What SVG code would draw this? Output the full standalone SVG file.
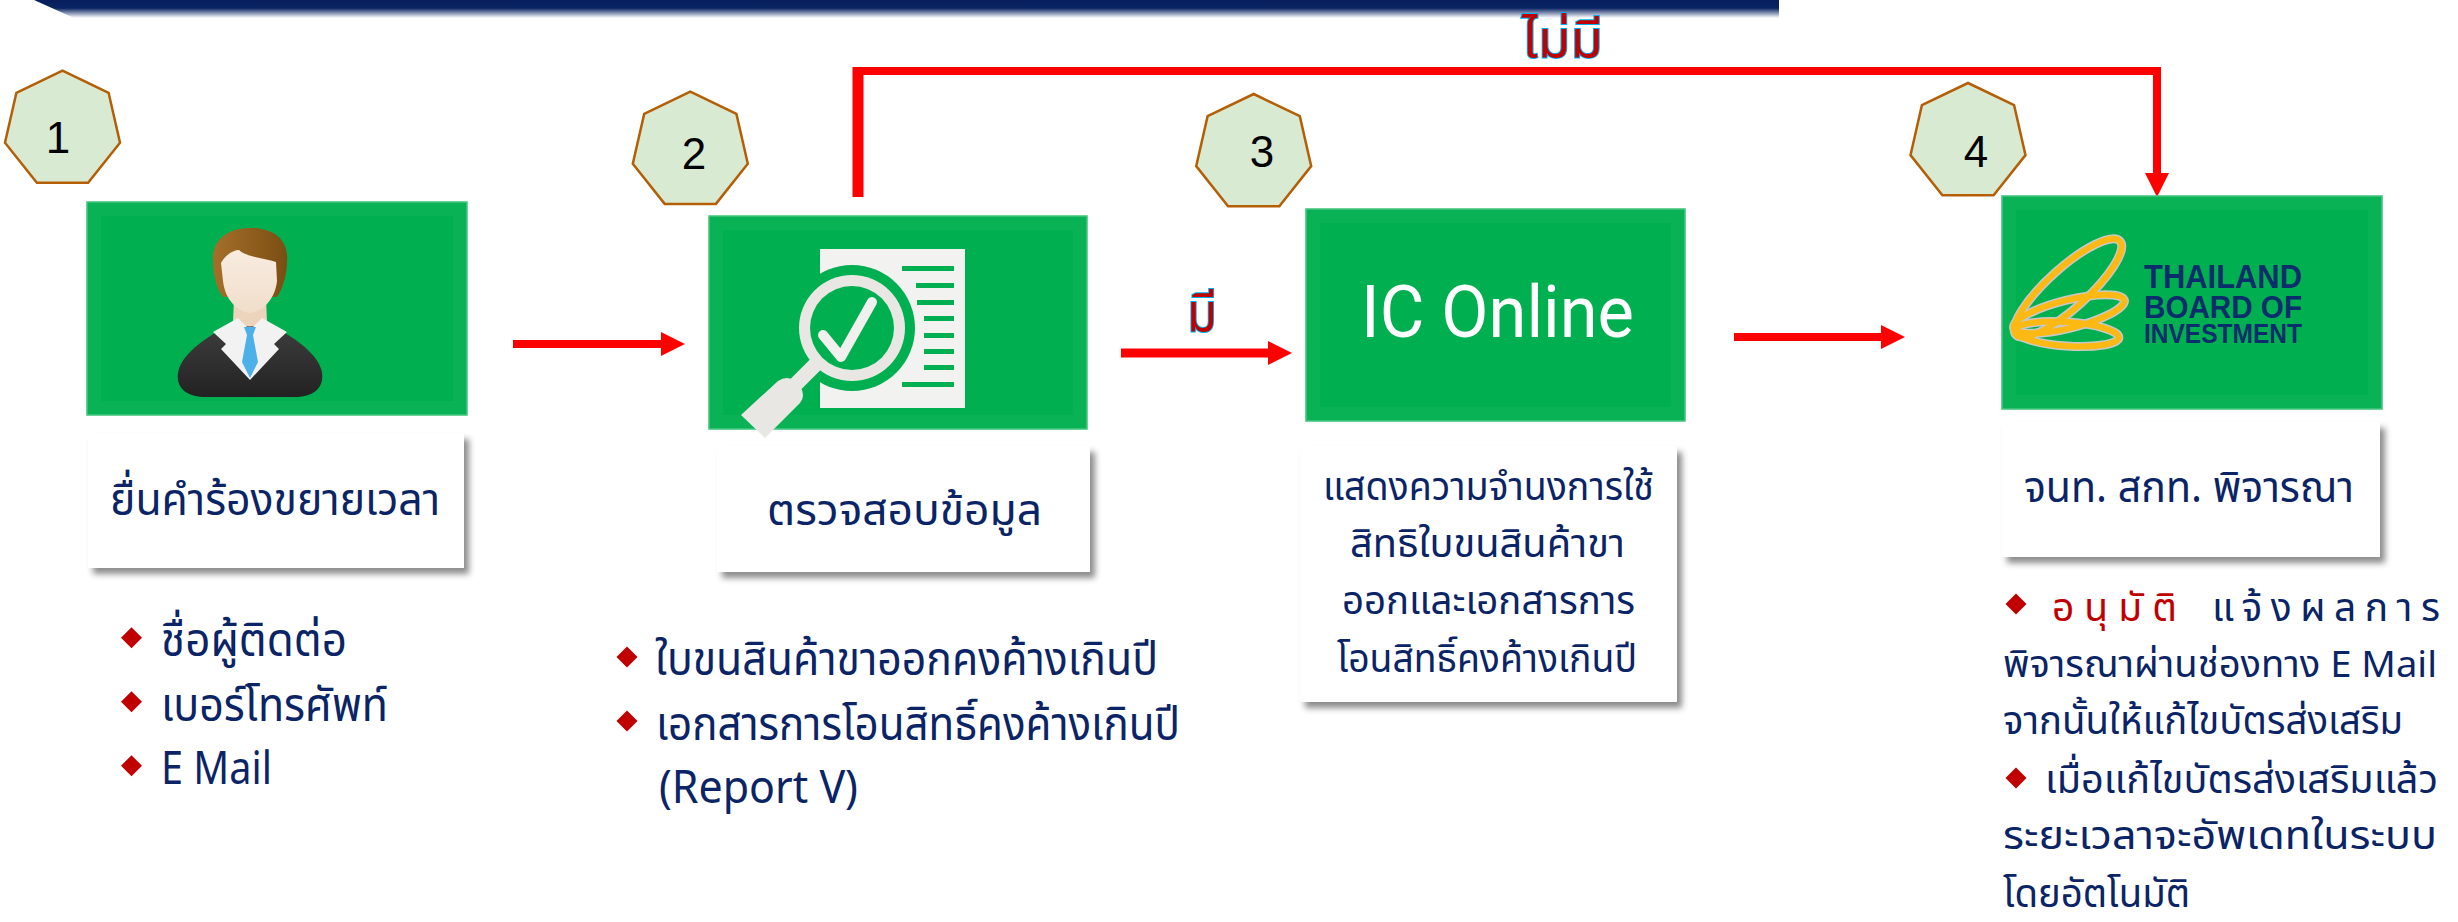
<svg xmlns="http://www.w3.org/2000/svg" width="2458" height="922" viewBox="0 0 2458 922">
  <style>
    .th { font-family: "Noto Sans Thai", "Noto Sans", "DejaVu Sans", sans-serif; fill: #0B2466; }
    .num { font-family: "Liberation Sans", Arial, sans-serif; font-size: 44px; fill: #000; text-anchor: middle; }
    .hept { fill: #D9EAD3; stroke: #B45F06; stroke-width: 2.5; }
    .gbox { fill: #00AF50; stroke: #3DC479; stroke-width: 1.5; }
    .bevel { fill: none; stroke: #FFFFFF; stroke-opacity: 0.04; stroke-width: 14; }
    .tbox { fill: #FFFFFF; filter: url(#shadow); }
    .conn { stroke: #FF0000; fill: none; }
    .flag { font-family: "Noto Sans Thai", "Noto Sans", sans-serif; fill: #C00000; stroke: #00B0F0; stroke-width: 2; paint-order: stroke; }
    .bul { fill: #C00000; }
    .boi { font-family: "Liberation Sans", Arial, sans-serif; font-weight: bold; fill: #0B2D6B; }
  </style>
  <defs>
    <filter id="shadow" x="-10%" y="-10%" width="125%" height="135%">
      <feDropShadow dx="5" dy="6" stdDeviation="3" flood-color="#000" flood-opacity="0.45"/>
    </filter>
    <linearGradient id="band" x1="0" y1="0" x2="0" y2="1">
      <stop offset="0" stop-color="#061E5C"/>
      <stop offset="0.45" stop-color="#0A2463"/>
      <stop offset="1" stop-color="#0A2463" stop-opacity="0"/>
    </linearGradient>
    <linearGradient id="hair" x1="0" y1="0" x2="1" y2="0">
      <stop offset="0" stop-color="#A56F2A"/>
      <stop offset="1" stop-color="#7A4E12"/>
    </linearGradient>
    <linearGradient id="suit" x1="0" y1="0" x2="0" y2="1">
      <stop offset="0" stop-color="#404040"/>
      <stop offset="1" stop-color="#222222"/>
    </linearGradient>
    <linearGradient id="skin" x1="0" y1="0" x2="0" y2="1">
      <stop offset="0" stop-color="#F8ECE0"/>
      <stop offset="1" stop-color="#F1DECB"/>
    </linearGradient>
    <marker id="head" viewBox="0 0 24 24" markerWidth="24" markerHeight="24" refX="0" refY="12" orient="auto" markerUnits="userSpaceOnUse">
      <path d="M0,0 L24,12 L0,24 Z" fill="#FF0000"/>
    </marker>
    <path id="diamond" d="M0,-10.5 L10.5,0 L0,10.5 L-10.5,0 Z"/>
    <polygon id="hepta" points="0,-59 46.1,-36.8 57.5,13.1 25.6,53.2 -25.6,53.2 -57.5,13.1 -46.1,-36.8"/>
  </defs>

  <!-- title band -->
  <path d="M34,0 H1779 V18 H74 Z" fill="url(#band)"/>

  <!-- connectors -->
  <g id="connectors">
    <line class="conn" x1="513" y1="344" x2="661" y2="344" stroke-width="8" marker-end="url(#head)"/>
    <line class="conn" x1="1121" y1="353" x2="1268" y2="353" stroke-width="9" marker-end="url(#head)"/>
    <line class="conn" x1="1734" y1="337" x2="1881" y2="337" stroke-width="8" marker-end="url(#head)"/>
    <path class="conn" d="M858,197 V67" stroke-width="11"/>
    <path class="conn" d="M853,71 H2157 V173" stroke-width="8" marker-end="url(#head)"/>
    <text class="flag" x="1187" y="331" font-size="54" textLength="30" lengthAdjust="spacingAndGlyphs">มี</text>
    <text class="flag" x="1522" y="57" font-size="52" textLength="81" lengthAdjust="spacingAndGlyphs">ไม่มี</text>
  </g>

  <!-- step 1 -->
  <g id="step1">
    <use href="#hepta" class="hept" x="62.5" y="129.6"/>
    <text class="num" x="58" y="153">1</text>
    <rect class="gbox" x="87" y="202" width="380" height="213"/>
    <rect class="bevel" x="94" y="209" width="366" height="199"/>
    <!-- person icon -->
    <path d="M178,380 C175,362 195,345 215,333 L238,320 L262,320 L285,333 C305,345 325,362 322,380 C320,392 308,397 295,397 L205,397 C192,397 180,392 178,380 Z" fill="url(#suit)"/>
    <path d="M234,298 L266,298 L267,322 C258,328 242,328 233,322 Z" fill="#EBD3BC"/>
    <path d="M213,262 C211,240 228,228 250,228 C274,228 289,240 287,262 C287,275 282,290 277,297 L223,297 C217,290 213,275 213,262 Z" fill="url(#hair)"/>
    <path d="M221,263 C226,254 234,250 239,250 C246,257 264,258 276,262 L277,281 C275,300 262,312 250,313 C238,312 225,300 223,281 Z" fill="url(#skin)"/>
    <path d="M213,332 L238,318 L250,330 L262,318 L287,332 L274,344 L279,349 L250,380 L221,349 L226,344 Z" fill="#F2F2F2"/>
    <path d="M244,327 L256,327 L253,335 L258,362 L250,378 L242,362 L247,335 Z" fill="#4DB0E8"/>
    <rect class="tbox" x="88" y="433" width="376" height="135"/>
    <text class="th" x="110" y="515" font-size="45" textLength="330" lengthAdjust="spacingAndGlyphs">ยื่นคำร้องขยายเวลา</text>
    <use href="#diamond" class="bul" x="131.5" y="637.7"/>
    <use href="#diamond" class="bul" x="131.5" y="701.7"/>
    <use href="#diamond" class="bul" x="131.5" y="765.7"/>
    <text class="th" x="161" y="656" font-size="46" textLength="186" lengthAdjust="spacingAndGlyphs">ชื่อผู้ติดต่อ</text>
    <text class="th" x="161" y="720.7" font-size="46" textLength="227" lengthAdjust="spacingAndGlyphs">เบอร์โทรศัพท์</text>
    <text class="th" x="161" y="784" font-size="46" textLength="111" lengthAdjust="spacingAndGlyphs">E Mail</text>
  </g>

  <!-- step 2 -->
  <g id="step2">
    <use href="#hepta" class="hept" x="690.3" y="150.7"/>
    <text class="num" x="694" y="169">2</text>
    <rect class="gbox" x="709" y="216" width="378" height="213"/>
    <rect class="bevel" x="716" y="223" width="364" height="199"/>
    <!-- document with magnifier -->
    <rect x="820" y="249" width="145" height="159" fill="#F2F2F0"/>
    <g fill="#00AF50">
      <rect x="902" y="266" width="52" height="5"/>
      <rect x="916" y="283" width="38" height="5"/>
      <rect x="917" y="300" width="37" height="5"/>
      <rect x="924" y="316" width="30" height="5"/>
      <rect x="924" y="333" width="30" height="5"/>
      <rect x="924" y="349" width="30" height="5"/>
      <rect x="924" y="365" width="30" height="5"/>
      <rect x="902" y="382" width="52" height="5"/>
    </g>
    <circle cx="852" cy="328" r="63" fill="#00AF50"/>
    <line x1="816" y1="364" x2="796" y2="384" stroke="#E8E7E3" stroke-width="15"/>
    <path d="M741,415 L778,381 Q790,373 800,386 Q806,396 800,403 L765,438 Z" fill="#E8E7E3"/>
    <circle cx="852" cy="328" r="53" fill="#E8E7E3"/>
    <circle cx="852" cy="328" r="42" fill="#00AF50"/>
    <polyline points="823,335 841,357 872,302" fill="none" stroke="#F0F0EE" stroke-width="10" stroke-linecap="round" stroke-linejoin="round"/>
    <rect class="tbox" x="717" y="446" width="373" height="126"/>
    <text class="th" x="767" y="525" font-size="42" textLength="275" lengthAdjust="spacingAndGlyphs">ตรวจสอบข้อมูล</text>
    <use href="#diamond" class="bul" x="627" y="657"/>
    <use href="#diamond" class="bul" x="627" y="721"/>
    <text class="th" x="655" y="675" font-size="46" textLength="503" lengthAdjust="spacingAndGlyphs">ใบขนสินค้าขาออกคงค้างเกินปี</text>
    <!-- second bullet wraps onto a second line -->
    <text class="th" font-size="46">
      <tspan x="656" y="740" textLength="524" lengthAdjust="spacingAndGlyphs">เอกสารการโอนสิทธิ์คงค้างเกินปี</tspan>
      <tspan x="659" y="803" textLength="199" lengthAdjust="spacingAndGlyphs">(Report V)</tspan>
    </text>
  </g>

  <!-- step 3 -->
  <g id="step3">
    <use href="#hepta" class="hept" x="1253.7" y="153"/>
    <text class="num" x="1262" y="167">3</text>
    <rect class="gbox" x="1306" y="209" width="379" height="212"/>
    <rect class="bevel" x="1313" y="216" width="365" height="198"/>
    <text x="1361" y="337" font-family="Roboto, 'Liberation Sans', sans-serif" font-size="72" fill="#FFFFFF" textLength="273" lengthAdjust="spacingAndGlyphs">IC Online</text>
    <rect class="tbox" x="1300" y="446" width="377" height="256"/>
    <text class="th" x="1323" y="500" font-size="39" textLength="331" lengthAdjust="spacingAndGlyphs">แสดงความจำนงการใช้</text>
    <text class="th" x="1350" y="557" font-size="39" textLength="275" lengthAdjust="spacingAndGlyphs">สิทธิใบขนสินค้าขา</text>
    <text class="th" x="1342" y="614" font-size="39" textLength="293" lengthAdjust="spacingAndGlyphs">ออกและเอกสารการ</text>
    <text class="th" x="1337" y="672" font-size="39" textLength="300" lengthAdjust="spacingAndGlyphs">โอนสิทธิ์คงค้างเกินปี</text>
  </g>

  <!-- step 4 -->
  <g id="step4">
    <use href="#hepta" class="hept" x="1968" y="142"/>
    <text class="num" x="1976" y="167">4</text>
    <rect class="gbox" x="2002" y="196" width="380" height="213"/>
    <rect class="bevel" x="2009" y="203" width="366" height="199"/>
    <!-- BOI emblem -->
    <g fill="none" stroke-linecap="round">
      <g stroke="#C8C8C8" stroke-width="9">
        <ellipse cx="2068" cy="288" rx="70" ry="20" transform="rotate(-42 2068 288)"/>
        <ellipse cx="2069" cy="314" rx="57" ry="14" transform="rotate(-14 2069 314)"/>
        <ellipse cx="2067" cy="334" rx="52" ry="12" transform="rotate(4 2067 334)"/>
      </g>
      <g stroke="#FDB913" stroke-width="6">
        <ellipse cx="2068" cy="288" rx="70" ry="20" transform="rotate(-42 2068 288)"/>
        <ellipse cx="2069" cy="314" rx="57" ry="14" transform="rotate(-14 2069 314)"/>
        <ellipse cx="2067" cy="334" rx="52" ry="12" transform="rotate(4 2067 334)"/>
      </g>
    </g>
    <!-- stacked wordmark -->
    <text class="boi">
      <tspan x="2144" y="288" font-size="34" textLength="158" lengthAdjust="spacingAndGlyphs">THAILAND</tspan>
      <tspan x="2144" y="318" font-size="32" textLength="158" lengthAdjust="spacingAndGlyphs">BOARD OF</tspan>
      <tspan x="2144" y="343" font-size="28" textLength="158" lengthAdjust="spacingAndGlyphs">INVESTMENT</tspan>
    </text>
    <rect class="tbox" x="2002" y="422" width="378" height="135"/>
    <text class="th" x="2024" y="502" font-size="43" textLength="330" lengthAdjust="spacingAndGlyphs">จนท. สกท. พิจารณา</text>
    <use href="#diamond" class="bul" x="2016" y="604"/>
    <use href="#diamond" class="bul" x="2016" y="778"/>
    <text class="th" x="2052" y="621" font-size="39" style="fill:#C00000" textLength="125" lengthAdjust="spacing">อนุมัติ</text>
    <text class="th" x="2212" y="621" font-size="39" textLength="228" lengthAdjust="spacing">แจ้งผลการ</text>
    <text class="th" x="2003" y="677" font-size="37" textLength="434" lengthAdjust="spacingAndGlyphs">พิจารณาผ่านช่องทาง E Mail</text>
    <text class="th" x="2003" y="734" font-size="39" textLength="400" lengthAdjust="spacingAndGlyphs">จากนั้นให้แก้ไขบัตรส่งเสริม</text>
    <text class="th" x="2045" y="793" font-size="39" textLength="393" lengthAdjust="spacingAndGlyphs">เมื่อแก้ไขบัตรส่งเสริมแล้ว</text>
    <text class="th" x="2003" y="849" font-size="39" textLength="434" lengthAdjust="spacingAndGlyphs">ระยะเวลาจะอัพเดทในระบบ</text>
    <text class="th" x="2003" y="907" font-size="39" textLength="187" lengthAdjust="spacingAndGlyphs">โดยอัตโนมัติ</text>
  </g>
</svg>
